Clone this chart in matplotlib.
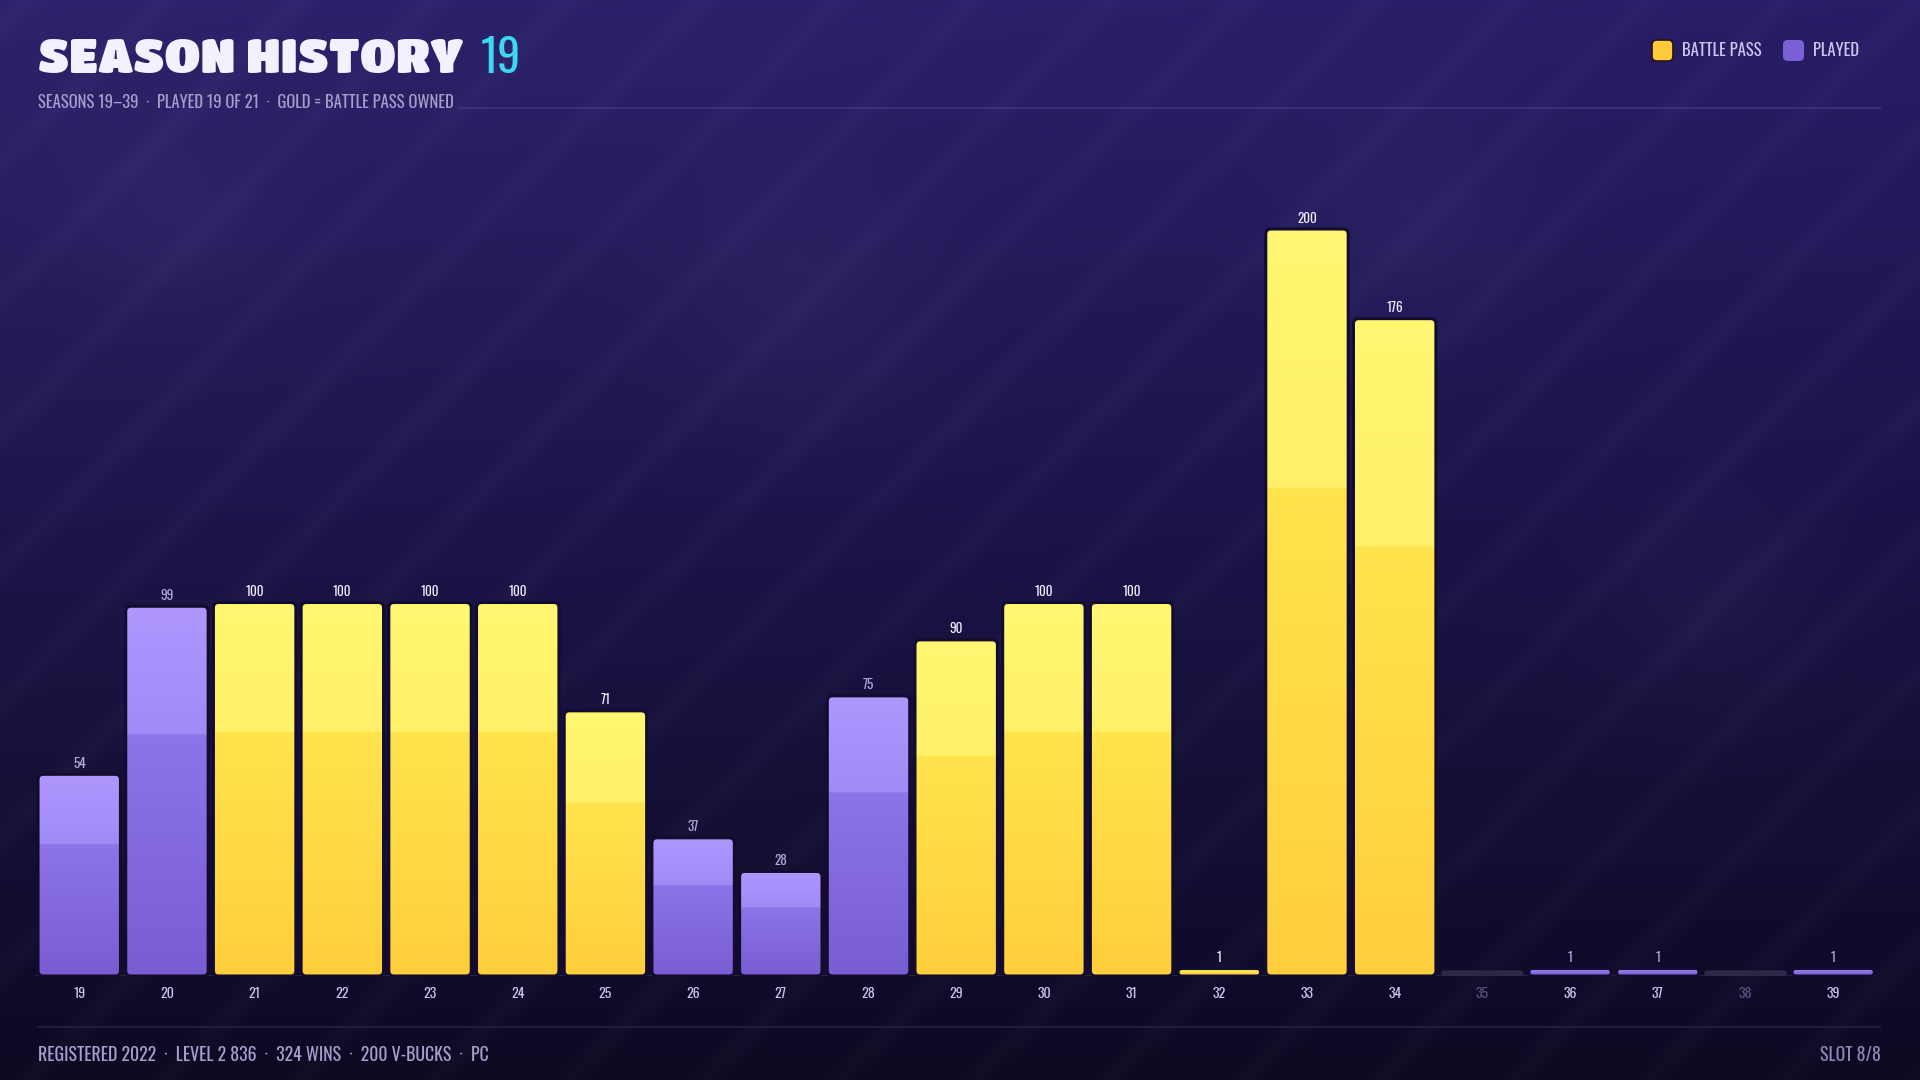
import numpy as np
import matplotlib
matplotlib.use("Agg")
import matplotlib.pyplot as plt
from matplotlib.patches import FancyBboxPatch

# season data
seasons = list(range(19, 40))
values = [54, 99, 100, 100, 100, 100, 71, 37, 28, 75, 90, 100, 100, 1, 200, 176, 0, 1, 1, 0, 1]
battle_pass = [0, 0, 1, 1, 1, 1, 1, 0, 0, 0, 1, 1, 1, 1, 1, 1, 0, 0, 0, 0, 0]
played = [1, 1, 1, 1, 1, 1, 1, 1, 1, 1, 1, 1, 1, 1, 1, 1, 0, 1, 1, 0, 1]

title = "SEASON HISTORY"
title_num = "19"
subtitle = "SEASONS 19\u201339  \u00b7  PLAYED 19 OF 21  \u00b7  GOLD = BATTLE PASS OWNED"
footer = "REGISTERED 2022  \u00b7  LEVEL 2 836  \u00b7  324 WINS  \u00b7  200 V-BUCKS  \u00b7  PC"
slot_text = "SLOT 8/8"
legend_labels = ["BATTLE PASS", "PLAYED"]

NARROW = ["Oswald", "Fira Sans Condensed", "DejaVu Sans"]
HEAVY = ["Titan One", "Luckiest Guy", "Lilita One", "Archivo Black", "DejaVu Sans"]

W, H = 1920, 1080
fig = plt.figure(figsize=(19.2, 10.8), dpi=100)

# ---- background: gradient + diagonal stripes + soft blobs
h, w = 540, 960
yy, xx = np.mgrid[0:h, 0:w]
yn = yy / (h - 1)
xn = xx / (w - 1)
top = np.array([45, 35, 108])
mid = np.array([30, 23, 78])
bot = np.array([13, 9, 34])
t1 = np.clip(yn / 0.45, 0, 1)[..., None]
t2 = np.clip((yn - 0.45) / 0.55, 0, 1)[..., None]
base = np.where(yn[..., None] < 0.45, top * (1 - t1) + mid * t1, mid * (1 - t2) + bot * t2)
base = base - 6 * xn[..., None] * (1 - yn[..., None])
px = xx * 2.0
py = yy * 2.0
ang = np.deg2rad(45)
u = (px * np.sin(ang) + py * np.cos(ang)) / (135 * np.sin(ang))
frac = u - np.floor(u)
stripe = np.clip(1 - np.abs(frac - 0.2) / 0.17, 0, 1) ** 0.8
base = base + stripe[..., None] * 5.0
for cx, cy, r in [(170, 210, 70), (800, 300, 90), (1410, 230, 80), (1710, 600, 80)]:
    g = np.exp(-(((px - cx) ** 2 + (py - cy) ** 2) / (2 * r ** 2)))
    base = base + g[..., None] * 6
bg_img = np.clip(base, 0, 255) / 255.0

bg = fig.add_axes([0, 0, 1, 1], zorder=0)
bg.imshow(bg_img, extent=[0, 1, 0, 1], aspect="auto", interpolation="bilinear")
bg.set_xlim(0, 1)
bg.set_ylim(0, 1)
bg.axis("off")

# ---- chart axes
ax_left, ax_right = 35.4 / W, 1877 / W
ax_bottom = (H - 976) / H
ymax = 220
ax_h = 747 / 200 * ymax / H
ax = fig.add_axes([ax_left, ax_bottom, ax_right - ax_left, ax_h], zorder=1)
ax.patch.set_alpha(0)
n = len(seasons)
for s in ax.spines.values():
    s.set_visible(False)
ax.set_xticks([])
ax.set_yticks([])

ax_w_px = (ax_right - ax_left) * W
ax_h_px = ax_h * H
x_per_px = n / ax_w_px
y_per_px = ymax / ax_h_px
asp = y_per_px / x_per_px

gold_stops = [(255, 206, 60), (255, 228, 78), (255, 240, 106), (255, 248, 114)]
purple_stops = [(121, 93, 210), (141, 116, 233), (160, 139, 246), (175, 151, 255)]


def make_grad(stops, npts=300):
    t = np.linspace(0, 1, npts)
    split = 0.655
    out = np.zeros((npts, 1, 3))
    lo = t < split
    a = t[lo] / split
    out[lo, 0, :] = np.outer(1 - a, stops[0]) + np.outer(a, stops[1])
    b = (t[~lo] - split) / (1 - split)
    out[~lo, 0, :] = np.outer(1 - b, stops[2]) + np.outer(b, stops[3])
    return out / 255.0


gold_grad = make_grad(gold_stops)
purple_grad = make_grad(purple_stops)

bw = 0.94
ax.axhline(0, color="#2E2852", lw=1.2, zorder=1)
for i, (s, v) in enumerate(zip(seasons, values)):
    x0 = i - bw / 2
    if not played[i]:
        dh = 1.5
        r = min(0.06, dh / asp / 2)
        p = FancyBboxPatch((x0, 0), bw, dh, boxstyle=f"round,pad=0,rounding_size={r}",
                           mutation_aspect=asp, fc="#2C2846", ec="none", zorder=2)
        ax.add_patch(p)
        col = "#5A5380"
    else:
        dh = max(v, 2.0)
        r = min(0.06, dh / asp / 2)
        p = FancyBboxPatch((x0, 0), bw, dh, boxstyle=f"round,pad=0,rounding_size={r}",
                           mutation_aspect=asp, fc="none", ec="#130C2E", lw=2.2, zorder=3)
        ax.add_patch(p)
        grad = gold_grad if battle_pass[i] else purple_grad
        im = ax.imshow(grad, extent=(x0, x0 + bw, 0, dh), origin="lower",
                       aspect="auto", interpolation="bilinear", zorder=2)
        im.set_clip_path(p)
        lab_col = "#F2EEFF" if battle_pass[i] else "#B3A9DE"
        ax.annotate(str(v), (i, dh), xytext=(0, 3.2), textcoords="offset points",
                    ha="center", va="bottom", fontsize=9.5, color=lab_col, family=NARROW)
        col = "#CBC4EC"
    ax.text(i, -17 * y_per_px, str(s), ha="center", va="center", fontsize=10,
            color=col, family=NARROW)
ax.set_xlim(-0.5, n - 0.5)
ax.set_ylim(0, ymax)

# ---- header
fig.text(38 / W, 1 - 73 / H, title, ha="left", va="baseline", fontsize=34.3,
         color="#F3F0FF", family=HEAVY)
fig.text(481 / W, 1 - 73 / H, title_num, ha="left", va="baseline", fontsize=33,
         color="#3CD8F2", family=NARROW)
fig.text(38 / W, 1 - 103 / H, subtitle, ha="left", va="center", fontsize=12,
         color="#A59DCB", family=NARROW)
fig.add_artist(plt.Line2D([458 / W, 1880 / W], [1 - 108 / H] * 2, color="#453B86",
                          lw=1.2, alpha=0.8))

# legend
sq = 21
for x_sq, c, ec, lab in [(1652, "#FFCB3A", "#2A0F1A", legend_labels[0]),
                         (1783, "#7B60D8", "none", legend_labels[1])]:
    fig.add_artist(FancyBboxPatch((x_sq / W, 1 - 61 / H), sq / W, sq / H,
                                  boxstyle="round,pad=0,rounding_size=0.0025",
                                  mutation_aspect=W / H, fc=c, ec=ec, lw=1.2,
                                  transform=fig.transFigure))
    fig.text((x_sq + sq + 9) / W, 1 - 51 / H, lab, ha="left", va="center",
             fontsize=12, color="#CEC6F0", family=NARROW)

# ---- footer
fig.add_artist(plt.Line2D([38 / W, 1880 / W], [1 - 1027 / H] * 2, color="#262042", lw=1.2))
fig.text(38 / W, 1 - 1055 / H, footer, ha="left", va="center", fontsize=12.8,
         color="#A69FCB", family=NARROW)
fig.text(1881 / W, 1 - 1055 / H, slot_text, ha="right", va="center", fontsize=12.8,
         color="#8E87B4", family=NARROW)

fig.savefig("out.png", dpi=100)
